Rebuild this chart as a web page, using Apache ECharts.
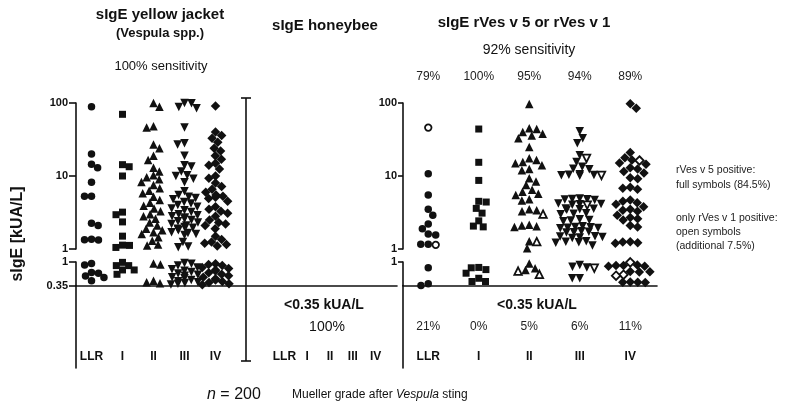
<!DOCTYPE html>
<html><head><meta charset="utf-8">
<script src="https://cdn.jsdelivr.net/npm/echarts@6/dist/echarts.min.js"></script>
<style>html,body{margin:0;padding:0;background:#fff}#c{width:800px;height:411px}</style>
</head><body><div id="c"></div>
<script>
// ---------- data ----------
const categories = ['LLR', 'I', 'II', 'III', 'IV'];
// sIgE yellow jacket (Vespula spp.), kUA/L
const yjLLR = [89, 20, 14.5, 13, 8.2, 5.3, 5.3, 2.25, 2.1, 1.36, 1.34, 1.33, 0.96, 0.92, 0.71, 0.69, 0.61, 0.57, 0.48];
const yjI = [70, 14.3, 13.4, 10, 3.2, 2.95, 2.35, 1.5, 1.13, 1.12, 1.05, 0.99, 0.9, 0.9, 0.78, 0.78, 0.66];
const yjII = [100, 89, 48, 46, 27, 24, 19, 16.5, 13, 11.5, 10.2, 9.6, 9, 8.3, 7.5, 6.8, 6.3, 5.8, 5.2, 4.7, 4.3, 3.9, 3.6, 3.3, 3.0, 2.8, 2.6, 2.3, 2.1, 1.9, 1.8, 1.7, 1.6, 1.45, 1.3, 1.15, 1.12, 0.96, 0.93, 0.48, 0.44, 0.41];
const yjIII = [100, 99, 88, 85, 46, 28, 27, 19, 14, 13.5, 11.5, 10.2, 10, 9.2, 8.2, 6.2, 5.5, 5.2, 5.0, 4.8, 4.4, 4.2, 4.0, 3.8, 3.6, 3.4, 3.2, 3.0, 2.9, 2.8, 2.7, 2.6, 2.5, 2.4, 2.3, 2.2, 2.1, 2.0, 1.95, 1.9, 1.8, 1.7, 1.65, 1.6, 1.55, 1.25, 1.08, 1.06, 0.97, 0.95, 0.9, 0.85, 0.8, 0.76, 0.72, 0.68, 0.65, 0.62, 0.58, 0.55, 0.5, 0.47, 0.44, 0.42, 0.4, 0.38];
const yjIV = [91, 40, 36, 33, 29, 24, 22, 19, 17, 15, 14, 12.5, 10, 9.3, 8, 7.2, 6.6, 6, 5.5, 5.3, 5.1, 4.9, 4.5, 3.8, 3.5, 3.3, 3.1, 2.8, 2.5, 2.3, 2.2, 2.1, 1.9, 1.5, 1.35, 1.25, 1.2, 1.15, 1.1, 0.95, 0.93, 0.9, 0.85, 0.82, 0.78, 0.75, 0.7, 0.66, 0.62, 0.58, 0.54, 0.5, 0.46, 0.43, 0.4, 0.37];
// sIgE rVes v 5 (full symbols) / only rVes v 1 (open symbols)
const rvLLRFull = [10.7, 5.5, 3.5, 2.9, 2.2, 1.9, 1.6, 1.55, 1.16, 1.16, 0.84, 0.4, 0.35];
const rvLLROpen = [46, 1.14];
const rvIFull = [44, 15.4, 8.7, 4.5, 4.4, 3.6, 3.1, 2.43, 2.06, 2.01, 0.85, 0.84, 0.79, 0.69, 0.55, 0.46, 0.46];
const rvIOpen = [];
const rvIIFull = [97, 45, 44, 40, 38, 36, 33, 25, 17.5, 16.5, 15.5, 15, 14, 12.5, 12, 9.3, 8.4, 7.5, 6.5, 6.1, 5.7, 5.5, 4.8, 4.6, 3.5, 3.4, 3.3, 2.15, 2.1, 2.05, 2.0, 1.28, 1.02, 0.96, 0.83, 0.78];
const rvIIOpen = [3.0, 1.26, 0.75, 0.66];
const rvIIIFull = [41, 33, 28, 19.3, 15.6, 13.4, 12.6, 12.4, 10.6, 10.4, 10.3, 10.2, 10.1, 4.9, 4.85, 4.8, 4.75, 4.7, 4.2, 4.15, 4.1, 4.05, 3.6, 3.55, 3.5, 3.45, 3.1, 3.05, 3.0, 2.55, 2.5, 2.45, 2.4, 2.05, 2.0, 1.98, 1.96, 1.94, 1.92, 1.75, 1.72, 1.7, 1.68, 1.5, 1.48, 1.46, 1.44, 1.42, 1.28, 1.26, 1.24, 1.22, 1.12, 0.92, 0.87, 0.85, 0.55, 0.55];
const rvIIIOpen = [17.4, 10.2, 4.0, 0.83];
const rvIVFull = [98, 85, 21, 17.8, 16.5, 15.1, 14.5, 13, 12.5, 11.5, 11, 9.5, 9.2, 7, 6.8, 6.6, 4.7, 4.5, 4.3, 4.1, 3.8, 3.5, 3.4, 3.3, 2.9, 2.7, 2.6, 2.5, 2.1, 2.0, 1.25, 1.22, 1.2, 1.26, 0.92, 0.9, 0.88, 0.9, 0.88, 0.74, 0.72, 0.73, 0.45, 0.44, 0.43, 0.44];
const rvIVOpen = [16.3, 0.99, 0.65, 0.62];
const rvPositivePct = ['79%', '100%', '95%', '94%', '89%'];
const rvNegativePct = ['21%', '0%', '5%', '6%', '11%'];

// ---------- chart ----------
const FONT = "'Liberation Sans', Arial, Helvetica, sans-serif";
const AX = '#111';
const LS = { color: AX, width: 1.6 };
const chart = echarts.init(document.getElementById('c'), null, { renderer: 'canvas' });

const grids = [
  { left: 76, top: 103, width: 155, height: 146 },     // 0 left upper (log)
  { left: 76, top: 262, width: 321, height: 23.5 },    // 1 left lower
  { left: 76, top: 285.5, width: 155, height: 82.5 },  // 2 left labels
  { left: 273, top: 285.5, width: 114, height: 82.5 }, // 3 honeybee labels
  { left: 403, top: 103, width: 252.5, height: 146 },  // 4 right upper (log)
  { left: 403, top: 262, width: 254, height: 23.5 },   // 5 right lower
  { left: 403, top: 285.5, width: 252.5, height: 82.5 } // 6 right labels
];
const none = { show: false };
function catLabelAxis(g) {
  return { type: 'category', gridIndex: g, data: categories, position: 'bottom', boundaryGap: true,
    axisLine: none, axisTick: none, splitLine: none,
    axisLabel: { inside: true, interval: 0, margin: 5, color: AX, fontFamily: FONT, fontWeight: 'bold', fontSize: 12 } };
}
const xAxes = [
  { type: 'value', gridIndex: 0, min: -0.5, max: 4.5, show: false },
  { type: 'value', gridIndex: 1, min: -0.5, max: -0.5 + 321 / 31, axisLine: { show: true, onZero: false, lineStyle: LS }, axisTick: none, axisLabel: none, splitLine: none },
  catLabelAxis(2),
  catLabelAxis(3),
  { type: 'value', gridIndex: 4, min: -0.5, max: 4.5, show: false },
  { type: 'value', gridIndex: 5, min: -0.5, max: -0.5 + 254 / 50.5, axisLine: { show: true, onZero: false, lineStyle: LS }, axisTick: none, axisLabel: none, splitLine: none },
  catLabelAxis(6),
  { type: 'category', gridIndex: 4, data: rvPositivePct, position: 'top', boundaryGap: true, axisLine: none, axisTick: none, splitLine: none,
    axisLabel: { interval: 0, margin: 20, color: '#222', fontFamily: FONT, fontSize: 12 } },
  { type: 'category', gridIndex: 6, data: rvNegativePct, position: 'top', boundaryGap: true, axisLine: none, axisTick: none, splitLine: none,
    axisLabel: { inside: true, interval: 0, margin: 35, color: '#222', fontFamily: FONT, fontSize: 12 } }
];
function logAxis(g, tl) {
  return { type: 'log', logBase: 10, gridIndex: g, min: 1, max: 100,
    axisLine: { show: true, onZero: false, lineStyle: LS }, axisTick: { show: true, length: tl, lineStyle: LS },
    minorTick: none, minorSplitLine: none, splitLine: none,
    axisLabel: { color: AX, fontFamily: FONT, fontWeight: 'bold', fontSize: 11, margin: tl + 1 } };
}
function lowAxis(g, tl, showLow) {
  return { type: 'value', gridIndex: g, min: 0.35, max: 1, interval: 0.65,
    axisLine: { show: true, onZero: false, lineStyle: LS },
    axisTick: showLow ? { show: true, length: tl, lineStyle: LS } : { show: true, length: tl, lineStyle: LS, customValues: [1] },
    splitLine: none,
    axisLabel: { color: AX, fontFamily: FONT, fontWeight: 'bold', fontSize: 11, margin: tl + 1,
      formatter: v => (v > 0.9 ? '1' : (showLow ? '0.35' : '')) } };
}
function plainY(g, showLine) {
  return { type: 'value', gridIndex: g, min: 0, max: 1, axisLine: { show: showLine, onZero: false, lineStyle: LS }, axisTick: none, axisLabel: none, splitLine: none };
}
const yAxes = [
  logAxis(0, 7), lowAxis(1, 7, true), plainY(2, true), plainY(3, false),
  logAxis(4, 5), lowAxis(5, 5, false), plainY(6, true)
];

function txt(x, y, text, size, bold, extra) {
  return Object.assign({ type: 'text', x: x, y: y, silent: true,
    style: { text: text, fill: '#111', font: (bold ? 'bold ' : '') + size + 'px ' + FONT, align: 'center', verticalAlign: 'middle' } }, extra || {});
}
const graphics = [
  txt(160, 15, 'sIgE yellow jacket', 15, true),
  txt(160, 33, '(Vespula spp.)', 13, true),
  txt(161, 66, '100% sensitivity', 13, false),
  txt(325, 26, 'sIgE honeybee', 15, true),
  txt(524, 23, 'sIgE rVes v 5 or rVes v 1', 15, true),
  txt(529, 50, '92% sensitivity', 14, false),
  txt(324, 305, '<0.35 kUA/L', 14, true),
  txt(327, 327, '100%', 14, false),
  txt(537, 305, '<0.35 kUA/L', 14, true),
  txt(18, 234, 'sIgE [kUA/L]', 16, true, { rotation: Math.PI / 2 }),
  { type: 'text', x: 207, y: 395, silent: true, style: { text: '{i|n} = 200', font: '16px ' + FONT, fill: '#111', verticalAlign: 'middle',
      rich: { i: { fontStyle: 'italic', fontSize: 16, fontFamily: FONT, fill: '#111' } } } },
  { type: 'text', x: 292, y: 395, silent: true, style: { text: 'Mueller grade after {i|Vespula} sting', font: '12px ' + FONT, fill: '#111', verticalAlign: 'middle',
      rich: { i: { fontStyle: 'italic', fontSize: 12, fontFamily: FONT, fill: '#111' } } } },
  { type: 'text', x: 676, y: 178, silent: true, style: { text: 'rVes v 5 positive:\nfull symbols (84.5%)', font: '10.5px ' + FONT, fill: '#222', lineHeight: 15, verticalAlign: 'middle' } },
  { type: 'text', x: 676, y: 211, silent: true, style: { text: 'only rVes v 1 positive:\nopen symbols\n(additional 7.5%)', font: '10.5px ' + FONT, fill: '#222', lineHeight: 14, verticalAlign: 'top' } },
  // honeybee bracket (axis-like decoration)
  { type: 'line', silent: true, shape: { x1: 246, y1: 98, x2: 246, y2: 361 }, style: { stroke: AX, lineWidth: 1.6 } },
  { type: 'line', silent: true, shape: { x1: 241, y1: 98, x2: 251, y2: 98 }, style: { stroke: AX, lineWidth: 1.6 } },
  { type: 'line', silent: true, shape: { x1: 241, y1: 361, x2: 251, y2: 361 }, style: { stroke: AX, lineWidth: 1.6 } }
];

chart.setOption({ animation: false, grid: grids, xAxis: xAxes, yAxis: yAxes, graphic: graphics, series: [] });

// ---------- beeswarm layout via axis scales ----------
const symbols = ['circle', 'rect', 'triangle', 'triangle', 'diamond'];
const rotations = [0, 0, 0, 180, 0];
const sizes = [7.5, 7, 8.5, 8.5, 9.5];
function swarm(points, D, maxOff) {
  const order = points.slice().sort((a, b) => a.py - b.py);
  const placed = [];
  let flip = 1;
  order.forEach(p => {
    const cands = [0];
    placed.forEach(q => {
      const dy = Math.abs(q.py - p.py);
      if (dy < D) { const w = Math.sqrt(D * D - dy * dy); cands.push(q.dx - w, q.dx + w); }
    });
    let best = 0, bestScore = Infinity;
    cands.forEach(x => {
      if (Math.abs(x) > maxOff) return;
      let hits = 0;
      placed.forEach(q => { const ddx = q.dx - x, ddy = q.py - p.py; if (ddx * ddx + ddy * ddy < D * D - 0.01) hits++; });
      const score = hits * 1000 + Math.abs(x) + (x * flip < 0 ? 0.01 : 0);
      if (score < bestScore) { bestScore = score; best = x; }
    });
    if (best !== 0) flip = -Math.sign(best);
    p.dx = best; placed.push(p);
  });
}
const series = [];
function panel(cols, upX, upY, lowX, lowY, D, maxOff) {
  const ppu = chart.convertToPixel({ xAxisIndex: upX }, 1) - chart.convertToPixel({ xAxisIndex: upX }, 0);
  cols.forEach((col, ci) => {
    const pts = [];
    col.full.forEach(v => pts.push({ v: v, open: false }));
    col.open.forEach(v => pts.push({ v: v, open: true }));
    pts.forEach(p => { p.up = p.v >= 1; p.py = chart.convertToPixel({ yAxisIndex: p.up ? upY : lowY }, p.v); });
    swarm(pts, D, maxOff);
    [[true, false], [true, true], [false, false], [false, true]].forEach(([up, open]) => {
      const data = pts.filter(p => p.up === up && p.open === open).map(p => [ci + p.dx / ppu, p.v]);
      if (!data.length) return;
      series.push({ type: 'scatter', xAxisIndex: up ? upX : lowX, yAxisIndex: up ? upY : lowY, clip: false, silent: true,
        symbol: symbols[ci], symbolRotate: rotations[ci], symbolSize: open ? sizes[ci] - 1 : sizes[ci],
        itemStyle: open ? { color: '#fff', borderColor: AX, borderWidth: 1.8, opacity: 1 } : { color: AX, opacity: 1 },
        data: data, z: open ? 3 : 2 });
    });
  });
}
panel([
  { full: yjLLR, open: [] }, { full: yjI, open: [] }, { full: yjII, open: [] }, { full: yjIII, open: [] }, { full: yjIV, open: [] }
], 0, 0, 1, 1, 7, 14);
panel([
  { full: rvLLRFull, open: rvLLROpen }, { full: rvIFull, open: rvIOpen }, { full: rvIIFull, open: rvIIOpen },
  { full: rvIIIFull, open: rvIIIOpen }, { full: rvIVFull, open: rvIVOpen }
], 4, 4, 5, 5, 7.5, 24);
chart.setOption({ series: series });
</script></body></html>
